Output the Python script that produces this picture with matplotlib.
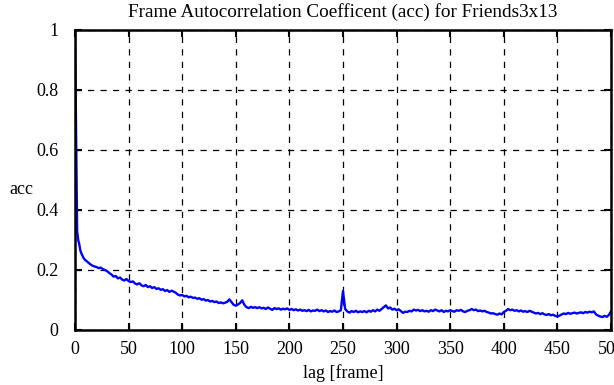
import matplotlib
matplotlib.use('Agg')
import matplotlib.pyplot as plt
from matplotlib.ticker import FuncFormatter

# lags 0..9 then every 2 frames up to 500
lags = list(range(10)) + list(range(10, 501, 2))

acc_head = [1.0, 0.65, 0.33, 0.3, 0.285, 0.265, 0.255, 0.247, 0.24, 0.235]
acc_tail = [
    0.232, 0.226, 0.22, 0.215, 0.212, 0.21, 0.206, 0.208, 0.203, 0.2,
    0.196, 0.19, 0.185, 0.178, 0.18, 0.172, 0.175, 0.168, 0.165, 0.17,
    0.163, 0.16, 0.162, 0.155, 0.152, 0.156, 0.149, 0.146, 0.15, 0.143,
    0.146, 0.14, 0.143, 0.137, 0.139, 0.134, 0.136, 0.13, 0.133, 0.127,
    0.131, 0.128, 0.124, 0.118, 0.115, 0.117, 0.112, 0.114, 0.109, 0.111,
    0.107, 0.108, 0.104, 0.106, 0.101, 0.103, 0.098, 0.1, 0.095, 0.097,
    0.093, 0.095, 0.09, 0.092, 0.089, 0.091, 0.094, 0.102, 0.093, 0.084,
    0.081, 0.085, 0.09, 0.099, 0.084, 0.076, 0.073, 0.077, 0.074, 0.076,
    0.073, 0.076, 0.072, 0.074, 0.07, 0.075, 0.071, 0.067, 0.073, 0.07,
    0.072, 0.068, 0.071, 0.069, 0.072, 0.067, 0.07, 0.066, 0.069, 0.065,
    0.068, 0.064, 0.066, 0.063, 0.067, 0.062, 0.065, 0.064, 0.068, 0.063,
    0.066, 0.062, 0.065, 0.06, 0.063, 0.061, 0.065, 0.06, 0.062, 0.066,
    0.13, 0.07, 0.062, 0.058, 0.063, 0.06, 0.064, 0.059, 0.062, 0.06,
    0.063, 0.059, 0.064, 0.061, 0.066, 0.062, 0.068, 0.064, 0.07, 0.076,
    0.082, 0.072, 0.075, 0.068, 0.071, 0.066, 0.069, 0.063, 0.057, 0.061,
    0.06, 0.064, 0.062, 0.068, 0.065, 0.067, 0.063, 0.066, 0.062, 0.064,
    0.061, 0.066, 0.063, 0.068, 0.065, 0.062, 0.066, 0.06, 0.064, 0.062,
    0.066, 0.063, 0.061, 0.066, 0.064, 0.067, 0.062, 0.06, 0.064, 0.066,
    0.07, 0.066, 0.068, 0.063, 0.065, 0.062, 0.064, 0.06, 0.058, 0.055,
    0.056, 0.053, 0.051, 0.055, 0.052, 0.06, 0.064, 0.07, 0.066, 0.068,
    0.064, 0.066, 0.062, 0.065, 0.061, 0.063, 0.06, 0.064, 0.061, 0.058,
    0.055, 0.057, 0.053, 0.056, 0.052, 0.05, 0.053, 0.049, 0.051, 0.047,
    0.045, 0.048, 0.052, 0.055, 0.053, 0.057, 0.054, 0.056, 0.058, 0.055,
    0.057, 0.059, 0.056, 0.06, 0.058, 0.061, 0.059, 0.062, 0.052, 0.048,
    0.045, 0.043, 0.047, 0.044, 0.05, 0.062,
]
acc = acc_head + acc_tail

x_ticks = [0, 50, 100, 150, 200, 250, 300, 350, 400, 450, 500]
y_ticks = [0, 0.2, 0.4, 0.6, 0.8, 1]

plt.rcParams['font.family'] = ['Liberation Serif', 'DejaVu Serif']

fig = plt.figure(figsize=(6.14, 3.85), dpi=100)
ax = fig.add_axes([75 / 614, 1 - 330 / 385, 536 / 614, 300 / 385])

ax.plot(lags, acc, color='#0000ff', linewidth=1.7)

ax.set_xlim(0, 500)
ax.set_ylim(0, 1)
ax.set_xticks(x_ticks)
ax.set_yticks(y_ticks)
ax.yaxis.set_major_formatter(FuncFormatter(lambda v, p: '%g' % v))
ax.grid(True, color='black', linestyle=(0, (5, 5)), linewidth=0.9)
ax.tick_params(direction='in', length=5, width=1.5, top=True, right=True,
               labelsize=13)
ax.tick_params(axis='x', pad=8)
ax.tick_params(axis='y', pad=12)
for s in ax.spines.values():
    s.set_linewidth(1.8)

fig.text(343 / 614, 1 - 12 / 385,
         'Frame Autocorrelation Coefficent (acc) for Friends3x13',
         fontsize=13.8, ha='center', va='center')
ax.set_xlabel('lag [frame]', fontsize=13, labelpad=4)
ax.set_ylabel('acc', fontsize=13, rotation=0, va='center', ha='center')
ax.yaxis.set_label_coords(-0.1, 0.467)

fig.savefig('out.png', dpi=100)
